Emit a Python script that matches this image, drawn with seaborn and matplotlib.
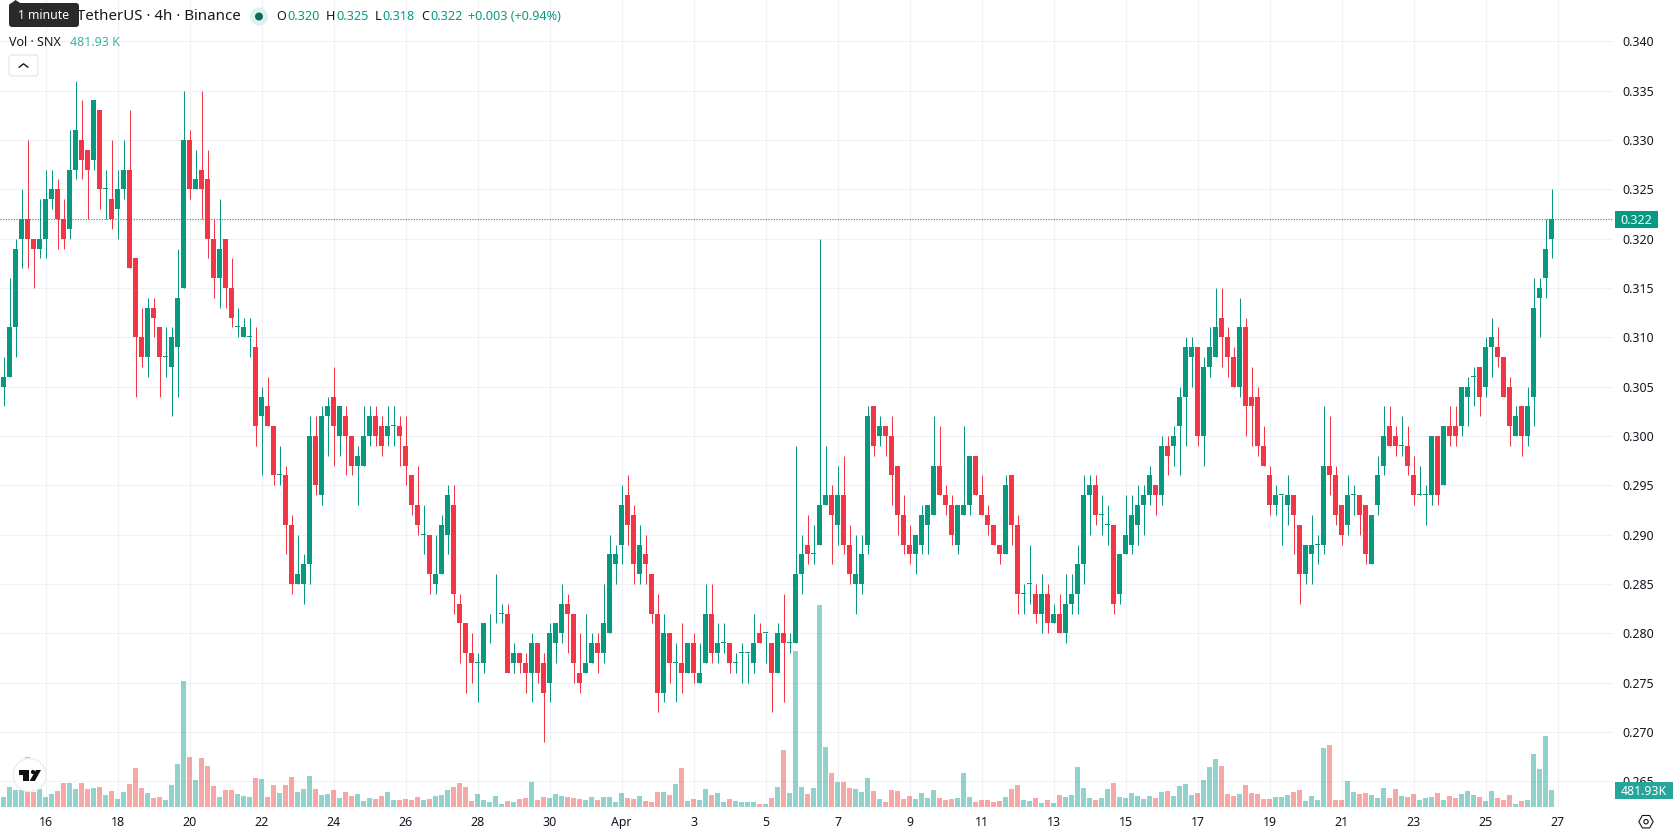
import numpy as np
import pandas as pd
import matplotlib
matplotlib.use("Agg")
import matplotlib.pyplot as plt
from matplotlib.patches import Circle, FancyBboxPatch, Polygon, Rectangle, RegularPolygon
import seaborn as sns

# SNX/USDT 4h candles, prices in thousandths of a dollar
opens = [305,306,311,320,322,320,319,320,324,325,322,321,327,330,329,328,333,325,324,323,
         325,327,318,310,308,313,311,308,307,309,315,330,325,327,326,320,316,320,315,311,
         310,310,309,302,303,301,296,296,291,285,285,287,300,294,302,304,300,302,300,297,
         297,300,302,301,300,301,301,299,296,293,290,290,285,286,290,293,283,281,278,277,
         277,281,281,282,282,277,278,277,276,279,277,275,279,280,283,282,276,276,277,279,
         278,280,287,289,294,292,286,288,286,282,274,280,277,277,276,279,275,277,282,278,
         279,279,277,278,278,277,280,280,279,276,280,279,279,286,289,288,289,293,294,291,
         294,289,285,285,289,303,300,301,300,297,292,289,288,289,291,292,297,294,293,289,
         292,293,298,294,292,291,289,288,296,291,284,285,284,282,284,281,282,280,283,284,
         287,294,295,292,291,291,284,288,289,291,293,294,295,294,299,299,301,304,308,309,
         300,307,308,312,310,308,305,311,304,304,299,296,293,294,293,294,291,286,288,289,
         289,297,296,293,291,294,294,293,287,293,297,301,300,299,299,296,294,294,294,300,
         295,301,301,301,304,306,307,305,309,309,308,305,300,303,300,304,314,316,320]
highs = [308,316,320,325,330,320,324,327,327,326,324,331,336,334,329,334,333,327,330,327,
         330,333,318,313,314,314,311,311,311,319,335,331,329,335,329,322,324,320,318,313,
         312,312,311,305,306,301,299,297,292,290,288,302,302,303,304,307,303,303,300,299,
         303,303,303,302,303,303,302,302,296,297,293,290,290,292,295,295,284,281,280,278,
         281,282,286,283,283,279,278,278,280,279,278,281,281,285,284,282,280,282,280,280,
         285,290,289,295,296,293,291,290,286,284,282,280,279,281,279,280,279,285,285,281,
         281,279,278,279,278,282,281,280,279,281,284,280,299,290,292,291,320,299,295,297,
         298,291,290,290,303,303,302,301,302,297,294,291,290,293,293,302,301,295,294,293,
         301,298,298,296,293,291,289,296,296,292,285,289,285,286,285,283,284,286,286,289,
         296,296,296,294,293,291,288,294,294,295,295,297,295,300,300,301,305,310,310,309,
         308,311,315,315,311,309,314,312,307,305,301,297,295,294,296,294,291,289,292,290,
         303,302,297,293,296,295,294,293,292,298,303,303,301,302,301,298,297,295,300,300,
         301,303,303,305,306,307,307,310,312,311,308,306,303,303,305,316,316,322,325]
lows = [303,306,308,317,317,315,318,318,323,319,319,320,326,326,322,327,323,322,321,320,
        324,317,304,307,306,310,304,306,302,304,315,324,325,322,318,314,313,313,311,310,
        310,308,299,296,301,295,295,288,284,285,283,285,294,293,298,297,298,296,296,293,
        297,299,299,298,299,299,297,295,292,290,288,284,284,286,288,282,277,274,275,273,
        276,279,281,281,276,276,276,274,273,275,269,273,277,279,278,275,274,276,277,276,
        277,280,285,287,289,285,285,285,281,272,273,275,273,274,276,275,275,277,277,277,
        278,276,276,275,275,276,279,277,272,276,273,278,279,284,287,287,289,293,287,289,
        288,285,282,284,288,298,299,298,293,290,288,287,286,288,288,292,294,292,289,288,
        292,292,294,292,290,289,287,288,289,282,282,283,281,280,280,281,280,279,282,282,
        285,290,291,290,289,282,283,288,288,289,290,293,292,293,296,297,296,299,305,299,
        297,306,308,307,306,305,304,300,299,298,297,292,292,289,291,288,283,285,285,287,
        288,294,291,289,290,292,290,287,287,292,296,299,298,298,296,293,294,291,293,293,
        295,299,299,300,301,303,302,304,306,307,304,299,300,298,299,301,310,314,318]
closes = [306,311,319,322,320,319,320,324,325,322,320,327,331,328,327,334,325,325,322,325,
          327,317,310,308,313,312,308,308,310,314,330,325,326,325,320,316,319,315,312,311,
          311,310,301,304,301,296,296,291,285,286,287,300,295,302,303,301,303,300,297,298,
          300,302,300,299,301,301,300,297,293,291,290,286,286,291,294,284,281,278,277,277,
          281,281,281,282,276,278,277,276,279,276,274,280,281,283,282,277,275,277,279,278,
          281,288,288,293,291,287,289,287,282,274,280,277,277,276,279,276,276,282,278,279,
          279,277,277,278,278,279,279,280,276,280,279,279,286,288,288,288,293,294,292,294,
          289,286,286,288,302,299,301,300,296,292,289,288,290,292,293,297,294,293,290,293,
          293,298,294,292,291,289,288,295,291,284,284,285,282,284,281,282,280,283,284,287,
          294,295,292,292,291,283,288,290,292,293,294,296,294,299,298,300,304,309,309,300,
          307,309,311,310,308,305,311,303,303,299,297,293,294,294,294,292,286,289,289,289,
          297,296,292,290,294,294,292,288,292,296,300,299,299,299,297,294,294,294,300,294,
          301,300,300,305,305,306,304,309,310,308,304,301,302,300,303,313,315,319,322]

# Traded volume of each candle, in thousands of SNX
volumes = [284,567,482,482,1408,435,510,284,369,454,680,680,510,680,510,539,567,340,454,227,
           425,652,1106,539,397,255,284,198,624,1219,3572,1418,765,1389,1162,595,284,482,482,369,
           312,284,822,794,284,624,397,624,851,425,510,879,510,340,369,482,255,425,312,369,
           170,255,227,312,425,198,198,227,198,284,198,227,312,340,482,567,680,567,170,369,
           198,142,312,85,170,142,227,255,709,198,284,255,369,312,284,255,227,198,284,198,
           284,284,142,397,255,227,312,170,142,425,425,340,652,1106,170,227,198,510,340,397,
           142,227,170,142,142,142,85,85,255,567,1616,397,4423,567,369,539,5727,1701,964,709,
           709,539,510,425,822,454,227,142,482,454,227,312,227,397,255,482,255,198,227,255,
           964,284,142,198,198,142,170,284,510,624,198,170,255,113,198,113,340,284,340,1134,
           539,255,198,255,510,680,284,255,397,312,227,312,255,425,454,312,595,652,340,397,
           765,1134,1361,1162,369,312,369,624,397,369,227,227,284,284,340,425,482,170,312,198,
           1673,1758,198,198,737,425,369,397,340,255,539,255,510,312,284,369,198,255,284,397,
           198,312,255,369,454,340,284,170,454,255,198,340,85,170,198,1503,1077,2013,482]

price_ticks = [0.265,0.270,0.275,0.280,0.285,0.290,0.295,0.300,0.305,0.310,0.315,0.320,0.325,0.330,0.335,0.340]
price_labels = ["0.265","0.270","0.275","0.280","0.285","0.290","0.295","0.300",
                "0.305","0.310","0.315","0.320","0.325","0.330","0.335","0.340"]
date_labels = ["16","18","20","22","24","26","28","30","Apr","3","5","7","9","11",
               "13","15","17","19","21","23","25","27"]
date_ticks = [7,19,31,43,55,67,79,91,103,115,127,139,151,163,175,187,199,211,223,235,247,259]
last_price = 0.322

GREEN = "#089981"
RED = "#F23645"
INK = "#131722"
GRID = "#F0F1F4"

sns.set_theme(style="white", rc={"axes.linewidth": 0})
plt.rcParams["font.family"] = ["Noto Sans", "DejaVu Sans"]

candles = pd.DataFrame({
    "candle": np.arange(len(opens)),
    "open": np.array(opens) / 1000,
    "high": np.array(highs) / 1000,
    "low": np.array(lows) / 1000,
    "close": np.array(closes) / 1000,
    "volume": volumes,
})
candles["side"] = np.where(candles["close"] >= candles["open"], "up", "down")
candle_colors = candles["side"].map({"up": GREEN, "down": RED})

WIDTH, HEIGHT = 1678, 835
PANE_RIGHT, PANE_BOTTOM = 1613, 807
PX_PER_CANDLE = 6.0
FIRST_CANDLE_PX = 3.5
PX_PER_PRICE = 9868.0
PRICE_AT_300 = 436.0

fig = plt.figure(figsize=(WIDTH / 100, HEIGHT / 100), dpi=100, facecolor="white")
pane = [0, 1 - PANE_BOTTOM / HEIGHT, PANE_RIGHT / WIDTH, PANE_BOTTOM / HEIGHT]
xlim = (-FIRST_CANDLE_PX / PX_PER_CANDLE, (PANE_RIGHT - FIRST_CANDLE_PX) / PX_PER_CANDLE)

# Price pane: grid, wicks, bodies, last-price line
ax = fig.add_axes(pane, zorder=1)
ax.set_xlim(xlim)
ax.set_ylim(0.300 - (PANE_BOTTOM - PRICE_AT_300) / PX_PER_PRICE, 0.300 + PRICE_AT_300 / PX_PER_PRICE)
ax.set_axisbelow(True)
ax.grid(True, color=GRID, linewidth=0.8)
wicks = ax.vlines(candles["candle"], candles["low"], candles["high"], colors=candle_colors, linewidth=0.72)
wicks.set_snap(True)
body_low = candles[["open", "close"]].min(axis=1)
body_height = (candles["close"] - candles["open"]).abs().clip(lower=0.0001)
ax.bar(candles["candle"], body_height, bottom=body_low, width=5 / 6, color=candle_colors, linewidth=0)
ax.axhline(last_price, color=GREEN, linewidth=0.8, linestyle=(0, (1, 1.4)), zorder=1.5)
ax.set_xticks(date_ticks, date_labels)
ax.set_yticks(price_ticks, price_labels)
ax.yaxis.tick_right()
ax.tick_params(axis="both", length=0, labelsize=8.9, labelcolor=INK)
ax.tick_params(axis="x", pad=6.5)
ax.tick_params(axis="y", pad=6.5)
ax.get_xticklabels()[date_labels.index("Apr")].set_fontweight("bold")
for tick_label in ax.get_yticklabels():
    tick_label.set_verticalalignment("center_baseline")

# Volume pane shares the price pane's area
ax_vol = fig.add_axes(pane, zorder=2)
ax_vol.patch.set_alpha(0)
sns.barplot(data=candles, x="candle", y="volume", hue="side", hue_order=["up", "down"],
            palette={"up": "#26A69A", "down": "#EF5350"}, native_scale=True, dodge=False,
            width=5 / 6, alpha=0.5, saturation=1, errorbar=None, legend=False,
            linewidth=0, ax=ax_vol)
ax_vol.set_xlim(xlim)
ax_vol.set_ylim(0, PANE_BOTTOM * 28.35)
ax_vol.axis("off")

# Header, value badges and chart furniture, placed in pixels
ui = fig.add_axes([0, 0, 1, 1], zorder=3)
ui.set_xlim(0, WIDTH)
ui.set_ylim(HEIGHT, 0)
ui.axis("off")

ui.text(241, 16.5, "TetherUS · 4h · Binance", ha="right", va="center", fontsize=10.8, color=INK)
ui.add_patch(Circle((259, 16.5), 9, color="#DDF1EE", linewidth=0))
ui.add_patch(Circle((259, 16.5), 4, color="#0A6B5B", linewidth=0))

ohlc_text = [(276, "O", INK), (287, "0.320", GREEN), (326, "H", INK), (336, "0.325", GREEN),
             (375, "L", INK), (382, "0.318", GREEN), (421, "C", INK), (430, "0.322", GREEN),
             (468, "+0.003 (+0.94%)", GREEN)]
for px, label, colour in ohlc_text:
    ui.text(px, 16.5, label, ha="left", va="center", fontsize=9.1, color=colour)

ui.text(9, 42, "Vol · SNX", ha="left", va="center", fontsize=9, color=INK)
ui.text(70, 42, "481.93 K", ha="left", va="center", fontsize=9, color="#3DB3A3")

# Collapse button
ui.add_patch(FancyBboxPatch((11, 57), 25, 17, boxstyle="round,pad=2,rounding_size=3",
                            facecolor="white", edgecolor="#E0E3EB", linewidth=0.8))
ui.plot([19, 23.5, 28], [67.3, 63.8, 67.3], color=INK, linewidth=1, solid_capstyle="round")

# Hover tooltip
ui.add_patch(Polygon([(11, 3.5), (15.5, 0), (21, 3.5)], color="#2A2A2A", linewidth=0))
ui.add_patch(FancyBboxPatch((11, 5), 66, 20, boxstyle="round,pad=2,rounding_size=3",
                            facecolor="#2A2A2A", edgecolor="none"))
ui.text(43.5, 15.5, "1 minute", ha="center", va="center", fontsize=8.8, color="white")

# Last price and last volume badges
ui.add_patch(Rectangle((1615, 211), 42.7, 17, color=GREEN, linewidth=0))
ui.text(1636.5, 220.5, "0.322", ha="center", va="center", fontsize=8.9, color="white")
ui.add_patch(Rectangle((1615, 782), 57.7, 17, color="#26A69A", linewidth=0))
ui.text(1644, 791.5, "481.93K", ha="center", va="center", fontsize=8.9, color="white")

# Watermark logo
ui.add_patch(Circle((29.6, 775), 16.5, facecolor="white", edgecolor="#EDEDED", linewidth=1))
ui.add_patch(Polygon([(18.6, 770), (28.5, 770), (28.5, 781), (23.2, 781), (23.2, 775), (18.6, 775)],
                     color="#111111", linewidth=0))
ui.add_patch(Circle((33, 772), 2.1, color="#111111", linewidth=0))
ui.add_patch(Polygon([(36, 770), (41, 770), (34.8, 781), (29.6, 781)], color="#111111", linewidth=0))

# Settings icon
ui.add_patch(RegularPolygon((1646, 821.7), 6, radius=7.2, orientation=np.pi / 2,
                            fill=False, edgecolor=INK, linewidth=0.8))
ui.add_patch(Circle((1646, 821.7), 2.2, fill=False, edgecolor=INK, linewidth=0.8))

fig.savefig("out.png", dpi=100)
